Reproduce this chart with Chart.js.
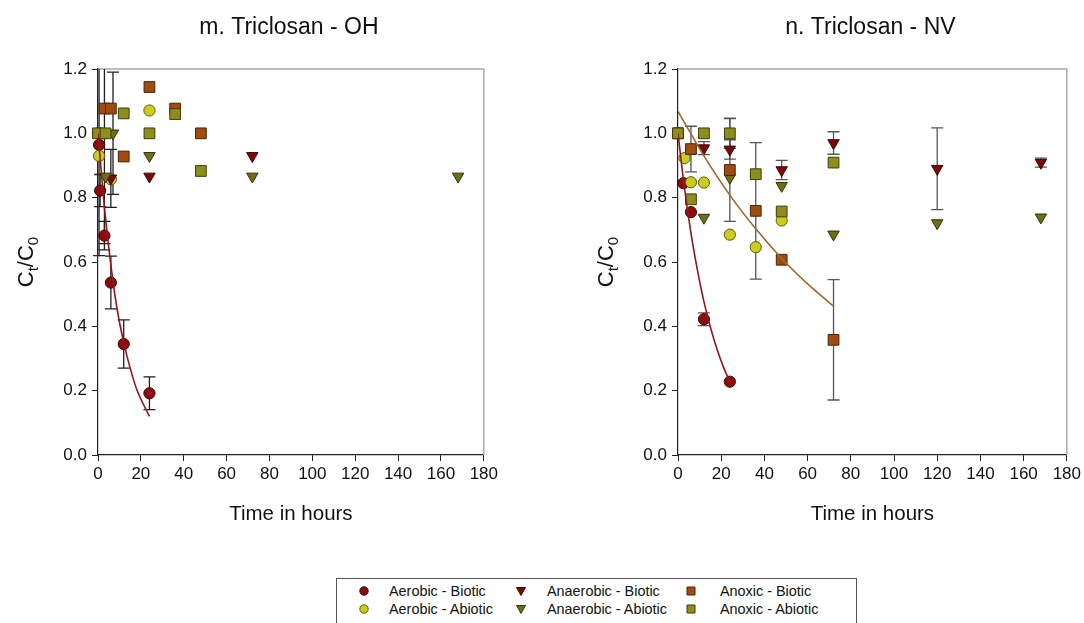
<!DOCTYPE html>
<html>
<head>
<meta charset="utf-8">
<script src="https://cdn.jsdelivr.net/npm/chart.js@4.4.1/dist/chart.umd.min.js"></script>
<style>
  html, body { margin: 0; padding: 0; background: #fff; width: 1084px; height: 623px; overflow: hidden;
    font-family: "Liberation Sans", Arial, sans-serif; }
  .panel { position: absolute; top: 0; }
  #legend { position: absolute; left: 336px; top: 578px; width: 521px; height: 52px;
    border: 1px solid #555; box-sizing: border-box; background: #fff; }
  .item { position: absolute; font-size: 14.4px; line-height: 16px; color: #111; white-space: nowrap; }
  .mark { position: absolute; }
</style>
</head>
<body>
<div class="panel" style="left:13px"><canvas id="chartOH" width="488" height="545"></canvas></div>
<div class="panel" style="left:593px"><canvas id="chartNV" width="491" height="545"></canvas></div>
<div id="legend"></div>

<script>
// ---------- Panel m: Triclosan - OH ----------
const ohAerobicBioticT   = [0, 0.5, 1, 3, 6, 12, 24];
const ohAerobicBioticV   = [1.0, 0.964, 0.822, 0.682, 0.536, 0.345, 0.192];
const ohAerobicBioticE   = [0, 0, 0.05, 0.044, 0.082, 0.075, 0.051];

const ohAerobicAbioticT  = [0.5, 6, 24];
const ohAerobicAbioticV  = [0.93, 0.857, 1.071];
const ohAerobicAbioticE  = [0.31, 0, 0];

const ohAnaerobicBioticT = [6, 24, 72];
const ohAnaerobicBioticV = [0.86, 0.866, 0.93];
const ohAnaerobicBioticE = [0.09, 0, 0];

const ohAnaerobicAbioticT = [3.5, 7, 24, 72, 168];
const ohAnaerobicAbioticV = [0.866, 1.0, 0.93, 0.866, 0.866];
const ohAnaerobicAbioticE = [0, 0.19, 0, 0, 0];

const ohAnoxicBioticT    = [3, 6, 12, 24, 36, 48];
const ohAnoxicBioticV    = [1.077, 1.077, 0.928, 1.144, 1.077, 1.0];
const ohAnoxicBioticE    = [0.42, 0, 0, 0, 0, 0];

const ohAnoxicAbioticT   = [0, 3.5, 12, 24, 36, 48];
const ohAnoxicAbioticV   = [1.0, 1.0, 1.062, 1.0, 1.06, 0.883];
const ohAnoxicAbioticE   = [0, 0, 0, 0, 0, 0];

// first-order decay fit through the aerobic-biotic points
const ohFitT = [0, 3, 6, 9, 12, 15, 18, 21, 24];
const ohFitV = [1.0, 0.77, 0.59, 0.45, 0.35, 0.27, 0.205, 0.16, 0.12];

// ---------- Panel n: Triclosan - NV ----------
const nvAerobicBioticT   = [0, 2.5, 6, 12, 24];
const nvAerobicBioticV   = [1.0, 0.845, 0.755, 0.422, 0.228];
const nvAerobicBioticE   = [0, 0, 0, 0.02, 0];

const nvAerobicAbioticT  = [0, 3, 6, 12, 24, 36, 48];
const nvAerobicAbioticV  = [1.0, 0.923, 0.848, 0.847, 0.685, 0.646, 0.729];
const nvAerobicAbioticE  = [0, 0, 0, 0, 0, 0, 0];

const nvAnaerobicBioticT = [0, 12, 24, 48, 72, 120, 168];
const nvAnaerobicBioticV = [1.0, 0.954, 0.95, 0.886, 0.97, 0.89, 0.909];
const nvAnaerobicBioticE = [0, 0.02, 0.03, 0.03, 0.035, 0.127, 0.014];

const nvAnaerobicAbioticT = [0, 12, 24, 48, 72, 120, 168];
const nvAnaerobicAbioticV = [1.0, 0.738, 0.862, 0.837, 0.686, 0.721, 0.739];
const nvAnaerobicAbioticE = [0, 0, 0, 0, 0, 0, 0];

const nvAnoxicBioticT    = [0, 6, 24, 36, 48, 72];
const nvAnoxicBioticV    = [1.0, 0.951, 0.886, 0.759, 0.607, 0.358];
const nvAnoxicBioticE    = [0, 0.071, 0.16, 0.212, 0, 0.187];

const nvAnoxicAbioticT   = [0, 6, 12, 24, 36, 48, 72];
const nvAnoxicAbioticV   = [1.0, 0.795, 1.0, 1.0, 0.873, 0.757, 0.909];
const nvAnoxicAbioticE   = [0, 0, 0, 0.047, 0, 0, 0];

// decay fits: aerobic-biotic and anoxic-biotic
const nvFitAerobicT = [0, 3, 6, 9, 12, 15, 18, 21, 24];
const nvFitAerobicV = [1.0, 0.83, 0.69, 0.575, 0.477, 0.397, 0.33, 0.274, 0.228];
const nvFitAnoxicT  = [0, 12, 24, 36, 48, 60, 72];
const nvFitAnoxicV  = [1.068, 0.93, 0.808, 0.703, 0.611, 0.532, 0.463];

// ---------- axis ticks ----------
const xTicks = [0, 20, 40, 60, 80, 100, 120, 140, 160, 180];
const yTicks = [0.0, 0.2, 0.4, 0.6, 0.8, 1.0, 1.2];

// ---------- series styles ----------
const SERIES = [
  { key: 'AerobicBiotic',    label: 'Aerobic - Biotic',    shape: 'circle',   fill: '#8c0c0c', edge: '#3c0505', order: 5 },
  { key: 'AerobicAbiotic',   label: 'Aerobic - Abiotic',   shape: 'circle',   fill: '#cccc1e', edge: '#5a5a10', order: 4 },
  { key: 'AnaerobicBiotic',  label: 'Anaerobic - Biotic',  shape: 'triangle', fill: '#7a0a0a', edge: '#3a0505', order: 3 },
  { key: 'AnaerobicAbiotic', label: 'Anaerobic - Abiotic', shape: 'triangle', fill: '#6e6e14', edge: '#33330a', order: 2 },
  { key: 'AnoxicBiotic',     label: 'Anoxic - Biotic',     shape: 'rect',     fill: '#a04c10', edge: '#4a2508', order: 1 },
  { key: 'AnoxicAbiotic',    label: 'Anoxic - Abiotic',    shape: 'rect',     fill: '#8e8e1c', edge: '#3e3e0c', order: 0 }
];
const RADIUS = { circle: 5.6, triangle: 6.6, rect: 7.6 };

const FONT = '"Liberation Sans", Arial, sans-serif';
const toXY = (ts, vs) => ts.map((t, i) => ({ x: t, y: vs[i] }));

function markerDatasets(prefix) {
  const src = {
    oh: { AerobicBiotic: [ohAerobicBioticT, ohAerobicBioticV, ohAerobicBioticE],
          AerobicAbiotic: [ohAerobicAbioticT, ohAerobicAbioticV, ohAerobicAbioticE],
          AnaerobicBiotic: [ohAnaerobicBioticT, ohAnaerobicBioticV, ohAnaerobicBioticE],
          AnaerobicAbiotic: [ohAnaerobicAbioticT, ohAnaerobicAbioticV, ohAnaerobicAbioticE],
          AnoxicBiotic: [ohAnoxicBioticT, ohAnoxicBioticV, ohAnoxicBioticE],
          AnoxicAbiotic: [ohAnoxicAbioticT, ohAnoxicAbioticV, ohAnoxicAbioticE] },
    nv: { AerobicBiotic: [nvAerobicBioticT, nvAerobicBioticV, nvAerobicBioticE],
          AerobicAbiotic: [nvAerobicAbioticT, nvAerobicAbioticV, nvAerobicAbioticE],
          AnaerobicBiotic: [nvAnaerobicBioticT, nvAnaerobicBioticV, nvAnaerobicBioticE],
          AnaerobicAbiotic: [nvAnaerobicAbioticT, nvAnaerobicAbioticV, nvAnaerobicAbioticE],
          AnoxicBiotic: [nvAnoxicBioticT, nvAnoxicBioticV, nvAnoxicBioticE],
          AnoxicAbiotic: [nvAnoxicAbioticT, nvAnoxicAbioticV, nvAnoxicAbioticE] }
  }[prefix];
  return SERIES.map(s => {
    const [t, v, e] = src[s.key];
    return {
      label: s.label,
      data: toXY(t, v),
      errors: e,
      showLine: false,
      pointStyle: s.shape,
      rotation: s.shape === 'triangle' ? 180 : 0,
      pointRadius: RADIUS[s.shape],
      pointHoverRadius: RADIUS[s.shape],
      backgroundColor: s.fill,
      borderColor: s.edge,
      borderWidth: 1,
      order: s.order,
      clip: false
    };
  });
}

function fitDataset(ts, vs, color) {
  return {
    label: 'fit',
    data: toXY(ts, vs),
    showLine: true,
    pointRadius: 0,
    pointHoverRadius: 0,
    borderColor: color,
    borderWidth: 1.6,
    cubicInterpolationMode: 'monotone',
    order: -1
  };
}

// vertical error bars with caps, drawn beneath the markers
const errorBars = {
  id: 'errorBars',
  beforeDatasetsDraw(chart, args, opts) {
    const { ctx, chartArea: a, scales: { x, y } } = chart;
    ctx.save();
    ctx.beginPath();
    ctx.rect(a.left - 8, a.top, a.right - a.left + 16, a.bottom - a.top);
    ctx.clip();
    ctx.strokeStyle = opts.color;
    ctx.lineWidth = 1.3;
    chart.data.datasets.forEach(ds => {
      if (!ds.errors) return;
      ds.data.forEach((p, i) => {
        const e = ds.errors[i];
        if (!e) return;
        const px = x.getPixelForValue(p.x);
        const yt = y.getPixelForValue(p.y + e);
        const yb = y.getPixelForValue(p.y - e);
        ctx.beginPath();
        ctx.moveTo(px, yt); ctx.lineTo(px, yb);
        ctx.moveTo(px - opts.cap, yt); ctx.lineTo(px + opts.cap, yt);
        ctx.moveTo(px - opts.cap, yb); ctx.lineTo(px + opts.cap, yb);
        ctx.stroke();
      });
    });
    ctx.restore();
  }
};

// light top and right edges of the plotting frame
const frame = {
  id: 'frame',
  beforeDatasetsDraw(chart) {
    const { ctx, chartArea: a } = chart;
    ctx.save();
    ctx.strokeStyle = '#a6a6a6';
    ctx.lineWidth = 1.4;
    ctx.beginPath();
    ctx.moveTo(a.left, a.top); ctx.lineTo(a.right, a.top); ctx.lineTo(a.right, a.bottom);
    ctx.stroke();
    ctx.restore();
  }
};

// panel heading centred over the plotting area
const panelTitle = {
  id: 'panelTitle',
  afterDraw(chart, args, opts) {
    const { ctx, chartArea: a } = chart;
    ctx.save();
    ctx.font = '23px ' + FONT;
    ctx.fillStyle = '#111';
    ctx.textAlign = 'center';
    ctx.textBaseline = 'middle';
    ctx.fillText(opts.text, (a.left + a.right) / 2 - 2, 28);
    ctx.restore();
  }
};

// rotated y-axis caption Ct/C0 with subscripts
const yCaption = {
  id: 'yCaption',
  afterDraw(chart, args, opts) {
    const { ctx, chartArea: a } = chart;
    const big = '22px ' + FONT;
    const small = '15px ' + FONT;
    const parts = [['C', big, 0], ['t', small, 5], ['/C', big, 0], ['0', small, 5]];
    ctx.save();
    ctx.fillStyle = '#111';
    ctx.textBaseline = 'alphabetic';
    let total = 0;
    parts.forEach(([s, f]) => { ctx.font = f; total += ctx.measureText(s).width; });
    ctx.translate(a.left - 65, opts.centerY);
    ctx.rotate(-Math.PI / 2);
    let cx = -total / 2;
    parts.forEach(([s, f, dy]) => {
      ctx.font = f;
      ctx.fillText(s, cx, dy);
      cx += ctx.measureText(s).width;
    });
    ctx.restore();
  }
};

function makeOptions(title) {
  return {
    responsive: false,
    devicePixelRatio: 1,
    animation: false,
    events: [],
    layout: { padding: { top: 69, bottom: 15, left: 0, right: 0 } },
    plugins: {
      legend: { display: false },
      tooltip: { enabled: false },
      errorBars: { color: title.startsWith('m') ? '#1e1e1e' : '#555', cap: 6 },
      panelTitle: { text: title },
      yCaption: { centerY: 262 }
    },
    scales: {
      x: {
        type: 'linear', min: 0, max: 180,
        afterFit: s => { s.height = 75; },
        afterBuildTicks: s => { s.ticks = xTicks.map(v => ({ value: v })); },
        ticks: { font: { size: 17, family: FONT }, color: '#111', padding: 3, maxRotation: 0 },
        grid: { drawOnChartArea: false, drawTicks: true, tickLength: 6, color: '#222' },
        border: { color: '#222', width: 1.2 },
        title: { display: true, text: 'Time in hours', color: '#111',
                 font: { size: 20.5, family: FONT }, padding: { top: 0, bottom: 3 } }
      },
      y: {
        type: 'linear', min: 0, max: 1.2,
        afterFit: s => { s.width = 85; },
        afterBuildTicks: s => { s.ticks = yTicks.map(v => ({ value: v })); },
        ticks: { font: { size: 17, family: FONT }, color: '#111', padding: 5,
                 callback: v => Number(v).toFixed(1) },
        grid: { drawOnChartArea: false, drawTicks: true, tickLength: 6, color: '#222' },
        border: { color: '#222', width: 1.2 }
      }
    }
  };
}

const plugins = [frame, errorBars, panelTitle, yCaption];

new Chart(document.getElementById('chartOH'), {
  type: 'scatter',
  data: { datasets: [...markerDatasets('oh'), fitDataset(ohFitT, ohFitV, '#8e1a1a')] },
  options: makeOptions('m. Triclosan - OH'),
  plugins
});

new Chart(document.getElementById('chartNV'), {
  type: 'scatter',
  data: { datasets: [...markerDatasets('nv'),
                     fitDataset(nvFitAerobicT, nvFitAerobicV, '#8e1a1a'),
                     fitDataset(nvFitAnoxicT, nvFitAnoxicV, '#9a6a2c')] },
  options: makeOptions('n. Triclosan - NV'),
  plugins
});

// shared key below both panels: three columns, biotic row over abiotic row
const legendEl = document.getElementById('legend');
const cols = [{ mark: 27, text: 52 }, { mark: 184, text: 210 }, { mark: 354, text: 383 }];
const rows = [12, 30];
SERIES.forEach((s, i) => {
  const col = cols[Math.floor(i / 2)];
  const cy = rows[i % 2];
  const c = document.createElement('canvas');
  c.width = 14; c.height = 14;
  c.className = 'mark';
  c.style.left = (col.mark - 7) + 'px';
  c.style.top = (cy - 7) + 'px';
  const g = c.getContext('2d');
  g.fillStyle = s.fill; g.strokeStyle = s.edge; g.lineWidth = 1;
  g.beginPath();
  if (s.shape === 'circle') g.arc(7, 7, 4.2, 0, Math.PI * 2);
  else if (s.shape === 'rect') g.rect(3, 3, 8, 8);
  else { g.moveTo(2.5, 3.5); g.lineTo(11.5, 3.5); g.lineTo(7, 11.5); g.closePath(); }
  g.fill(); g.stroke();
  legendEl.appendChild(c);
  const t = document.createElement('div');
  t.className = 'item';
  t.textContent = s.label;
  t.style.left = col.text + 'px';
  t.style.top = (cy - 8) + 'px';
  legendEl.appendChild(t);
});
</script>
</body>
</html>
